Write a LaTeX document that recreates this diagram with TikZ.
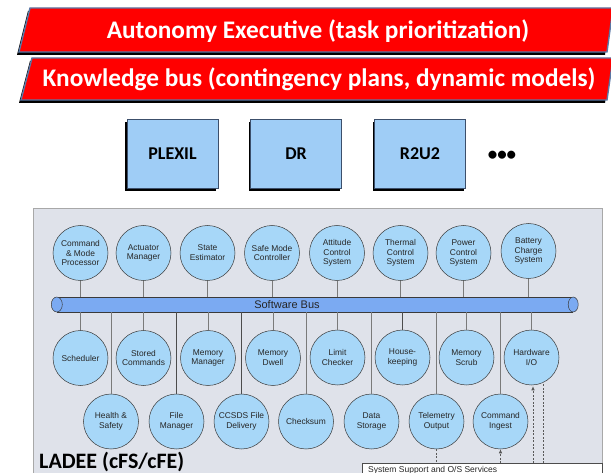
\documentclass[tikz,border=0pt]{standalone}
\usepackage{fontspec}
\setmainfont{Carlito}
\newfontfamily\arialf{Liberation Sans}
\usetikzlibrary{arrows.meta,calc,shadows}
\definecolor{bannerline}{HTML}{5A78A6}
\definecolor{boxfill}{HTML}{9FCDF6}
\definecolor{boxline}{HTML}{3C4F6B}
\definecolor{circfill}{HTML}{A7D7F8}
\definecolor{circline}{HTML}{3A3A3A}
\definecolor{busfill}{HTML}{7BAAF2}
\definecolor{panelfill}{HTML}{DFE2EA}
\definecolor{panelline}{HTML}{A8A8A8}
\definecolor{connline}{HTML}{7A7A7A}
\begin{document}
\begin{tikzpicture}[x=1pt,y=-1pt,
  banner/.style={fill=red, draw=bannerline, line width=1.4pt,
    drop shadow={shadow xshift=-2pt, shadow yshift=-3pt, opacity=1, fill=black}},
  bannertext/.style={text=white, font=\bfseries\fontsize{25.3}{28}\selectfont, inner sep=0pt},
  algbox/.style={rectangle, fill=boxfill, draw=boxline, line width=0.8pt,
    minimum width=91pt, minimum height=69pt, inner sep=0pt,
    font=\bfseries\fontsize{18}{20}\selectfont,
    drop shadow={shadow xshift=-2pt, shadow yshift=-3pt, opacity=1, fill=black}},
  mod/.style={circle, draw=circline, line width=0.5pt, fill=circfill, minimum size=55pt,
    inner sep=0pt, align=center, text=black!85,
    font=\arialf\fontsize{8.4}{9.8}\selectfont},
  conn/.style={draw=connline, line width=0.8pt},
  dconn/.style={draw=black!65, line width=0.6pt, dash pattern=on 2pt off 1.5pt},
  darr/.style={dconn, -{Latex[length=4pt,width=3.5pt]}}
]
\useasboundingbox (0,0) rectangle (611,473);

% banners
\path[banner] (30,8) -- (613,8) -- (607,52) -- (19,52) -- cycle;
\path[banner] (32,58) -- (613,58) -- (607,100) -- (21,100) -- cycle;
\node[bannertext] (exec) at (318,31) {Autonomy Executive (task prioritization)};
\node[bannertext] (kbus) at (319,79) {Knowledge bus (contingency plans, dynamic models)};

% algorithm boxes
\node[algbox] (plexil) at (172.5,154) {PLEXIL};
\node[algbox] (dr) at (296,154) {DR};
\node[algbox] (r2u2) at (420,154) {R2U2};
\node[font=\bfseries\fontsize{19}{22}\selectfont, inner sep=0pt] (dots) at (502,156) {•••};

% panel
\path[fill=panelfill, draw=panelline, line width=0.8pt] (33,208) rectangle (602,480);

% bus
\node[rectangle, minimum width=516pt, minimum height=15pt, inner sep=0pt,
      fill=busfill] (bus) at (315,304.5) {};
\draw[circline, line width=0.5pt] (bus.north west) -- (bus.north east)
      (bus.south west) -- (bus.south east);
\draw[circline, line width=0.5pt, fill=busfill] (bus.west) ellipse [x radius=5.5pt, y radius=7.5pt];
\draw[circline, line width=0.5pt, fill=busfill] (bus.east) ellipse [x radius=5pt, y radius=7.5pt];
\node[font=\arialf\fontsize{11}{12}\selectfont, text=black!85, inner sep=0pt] (bustext) at (287,304.5) {Software Bus};

% top modules
\node[mod] (cmp) at (80.5,253) {Command\\\& Mode\\Processor};
\node[mod] (act) at (143.5,253) {Actuator\\Manager};
\node[mod] (est) at (207.5,253) {State\\Estimator};
\node[mod] (smc) at (272,253) {Safe Mode\\Controller};
\node[mod] (acs) at (337,253) {Attitude\\Control\\System};
\node[mod] (tcs) at (400.5,253) {Thermal\\Control\\System};
\node[mod] (pcs) at (463.5,253) {Power\\Control\\System};
\node[mod] (bcs) at (528.5,251) {Battery\\Charge\\System};

% row 1
\node[mod] (sch) at (80.5,358) {Scheduler};
\node[mod] (sto) at (143.5,358) {Stored\\Commands};
\node[mod] (mem) at (208,358) {Memory\\Manager};
\node[mod] (mdw) at (273,358) {Memory\\Dwell};
\node[mod] (lim) at (337.5,357.5) {Limit\\Checker};
\node[mod] (hk) at (402.5,357.5) {House-\\keeping};
\node[mod] (msc) at (466.5,357.5) {Memory\\Scrub};
\node[mod] (hw) at (531.5,357.5) {Hardware\\I/O};

% row 2
\node[mod] (hs) at (111,421.5) {Health \&\\Safety};
\node[mod] (fm) at (176.5,421.5) {File\\Manager};
\node[mod] (ccs) at (241.5,421.5) {CCSDS File\\Delivery};
\node[mod] (chk) at (306,421.5) {Checksum};
\node[mod] (dst) at (371.5,421.5) {Data\\Storage};
\node[mod] (tel) at (436.5,421.5) {Telemetry\\Output};
\node[mod] (ci) at (500.5,421.5) {Command\\Ingest};

% connectors top
\foreach \n in {cmp,act,est,smc,acs,tcs,pcs,bcs}
  \draw[conn] (\n) -- (\n |- bus.north);
% connectors below
\foreach \n in {sch,sto,mem,mdw,lim,hk,msc,hw}
  \draw[conn] (bus.south -| \n) -- (\n);
\foreach \n in {hs,fm,ccs,chk,dst,tel,ci}
  \draw[conn] (bus.south -| \n) -- (\n);
\draw[conn, draw=black!70] (bus.south -| fm) -- (fm);
\draw[conn, draw=black!70] (bus.south -| ccs) -- (ccs);
\draw[conn, draw=black!70] (bus.south -| hk) -- (hk);

% system support box
\node[rectangle, anchor=north west, fill=white, draw=black!70, line width=0.6pt,
      minimum width=240pt, minimum height=20pt, inner sep=0pt] (sys) at (362,463) {};
\node[anchor=north west, inner sep=0pt, font=\arialf\fontsize{8.5}{10}\selectfont, text=black!85]
      (systext) at (368,466) {System Support and O/S Services};

% dashed links
\draw[dconn] (tel.south) -- (tel.south |- sys.north);
\draw[darr] (ci.south |- sys.north) -- (ci.south);
\coordinate (hwa) at ($(hw.south)+(1.5,1)$);
\draw[darr] (hwa |- sys.north) -- (hwa);
\draw[dconn] (hw.-65 |- sys.north) -- (hw.-65);

% label
\node[anchor=base west, inner sep=0pt, font=\bfseries\fontsize{22}{24}\selectfont]
      (ladee) at (39,468) {LADEE (cFS/cFE)};
\end{tikzpicture}
\end{document}
